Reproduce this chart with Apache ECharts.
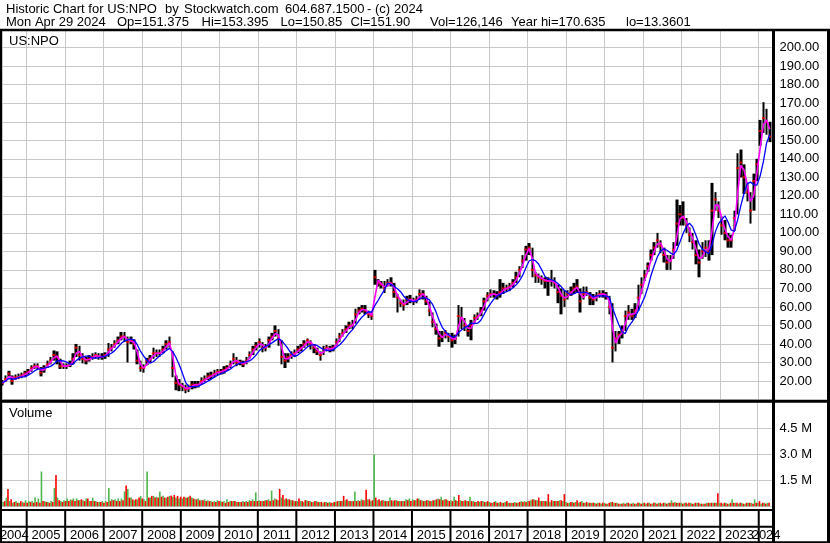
<!DOCTYPE html>
<html><head><meta charset="utf-8">
<script src="https://cdn.jsdelivr.net/npm/echarts@6/dist/echarts.min.js"></script>
<style>html,body{margin:0;padding:0;background:#fff}#c{width:830px;height:543px}</style>
</head><body><div id="c"></div>
<script>
// ---- data (monthly, May 2004 .. Apr 2024) ----
const startYear = 2004, startMonth = 5;
const years = ['2004','2005','2006','2007','2008','2009','2010','2011','2012','2013','2014','2015','2016','2017','2018','2019','2020','2021','2022','2023','2024'];
const close = [
 19,21,24,20,22,22,23,24,
 25,27,28,28,24.5,27,29,31,34,33,28,28,
 28,29,32,38,34,32,31,32,33,34,33,33,
 34,37,38,40,42,44,44,41,42,40,31,27,
 27,31,32,35,35,35,37,40,41,27,19,18,
 17,15.5,16,18,18,18,20,21,22.5,23,24,25,
 25,26,27,29,32,30,30,29,31,34,37,39,
 41,38,38,42,44,47,43,33,31,33,34,35,
 37,38,40,42,40,38,36,34,37,38,37,38,
 41,44,46,48,50,50,56,58,59,58,56,55,
 76,73,72,70,73,73,68,65,62,61,64,64,
 63,64,67,67,63,58,52,48,43,44,46,44,
 42,43,55,54,50,47,50,54,55,58,63,66,
 67,67,66,68,70,70,71,73,76,80,85,91,
 92,80,77,76,75,74,74,74,73,68,66,64,
 67,68,70,71,63,67,68,65,64,66,67,67,
 66,60,38,43,45,47,55,57,55,58,65,72,
 77,82,88,92,96,93,88,84,85,91,105,110,
 108,104,99,95,88,84,90,92,90,112,118,112,
 104,100,96,96,108,135,138,130,122,112,128,137,
 155,162,160,152
];
const high = [
 20.5,23,25.5,23,23.5,24,24.5,25.5,
 26.5,28.5,29.5,29.5,27.5,28.5,31,33,36.5,36,32,29.5,
 29.5,31,35,40,39,35,33,34,35,35.5,35,35,
 35.5,40.5,40,42,44,46.5,46.5,44,44,42.5,37,31,
 29,32.5,34,38,37,37,39,42,44,36,23,21,
 19,18,18,20,20,20,22,23,24.5,25,26,26.5,
 26.5,28,28.5,31,35,33,31.5,31,33,36,39,41,
 43,41,40,44,46,50,48,42,35,35,36,37,
 39,40,42,43,42,40,38,36,39,39.5,39,39.5,
 43,46,48,50,52,53,59,60,61,61,58,57.5,
 80,75,74,74,75,76,73,67,64,64,66,66.5,
 65,66,69.5,69,66,63,57,51,47,47,47.5,46,
 46,45,61,60,54,50,53,56,57,60,65,68,
 69.5,69,68.5,75,73,72,73,75,79,82,88,93,
 94.5,92,79,78,77,76,76,80,76,72,70,69,
 69,71,73,75,70,71,71,68,67,68,69,69,
 68,66,62,47,47,50,58,61,59,62,72,76,
 80,84,91,95,100,96,92,88,88,95,118,115,
 117,108,103,100,96,91,95,96,96,127,122,117,
 109,107,100,99,112,143,145,137,127,122,132,140,
 161,170.6,167,160
];
const low = [
 17.5,19.5,22,18,20.5,21,21.5,22.5,
 23.5,25,26.5,26,22.5,24.5,27,29,31,29,26.5,26.5,
 26.5,27.5,29,33,31,29.5,29,30.5,31.5,32,31.5,31.5,
 32,33,36,38,40,42,41,30,40,37,29,25,
 24.5,28.5,30,32,33,33,35,37,38,22,15,14.5,
 14.5,13.4,14,15.5,16,16.5,18,19.5,20.5,21,22,23,
 23.5,24,25.5,27,29,28,28.5,27.5,29,32,34,36.5,
 38,35.5,36,38,42,44,39,29,27,30,32,33,
 35,36,38,39,37,35,34,31,34,36,35.5,36,
 39,41,44,46,48,48,51,56,57,56,54,53,
 72,71,70,67.5,71,71,65,57,60,58,61,62,
 61,62,64,64,61,55,49,45,38.5,41,43,41,
 38,40,44,48,47,44,42,51,53,55,58,63,
 65,65,64,65,67,68,68.5,70.5,73,76,81,85,
 88,76,73,73,72,70,66,71,70,62,56,60,
 64,66,67,68,57,64,66,61,61,63,65,65,
 64,56,30,36,40,43,47,53,53,54,58,67,
 74,79,85,88,92,89,84,80,80,86,93,104,
 104,100,95,91,83,76,86,87,85,88,112,108,
 99,96,92,92,101,110,130,121,117,105,112,128,
 147,154,153,149
];
const maFast = [
 19,20,22.5,22,21,22,22.5,23.5,
 24.5,26,27.5,28,26,26,28,30,32.5,33.5,30.5,28,
 28,28.5,30.5,35,36,33,31.5,31.5,32.5,33.5,33.5,33,
 33.5,35.5,37.5,39,41,43,44,42.5,41.5,41,35.5,29,
 27,29,31.5,33.5,35,35,36,38.5,40.5,34,23,18.5,
 17.5,16,16,17,18,18,19,20.5,21.5,22.5,23.5,24.5,
 25,25.5,26.5,28,30.5,31,30,29.5,30,32.5,35.5,38,
 40,39.5,38,40,43,45.5,45,38,32,32,33.5,34.5,
 36,37.5,39,41,41,39,37,35,35.5,37.5,37.5,37.5,
 39.5,42.5,45,47,49,50,53,57,58.5,58.5,57,55.5,
 65.5,74.5,72.5,71,71.5,73,70.5,66.5,63.5,61.5,62.5,64,
 63.5,63.5,65.5,67,65,60.5,55,50,45.5,43.5,45,45,
 43,42.5,49,54.5,52,48.5,48.5,52,54.5,56.5,60.5,64.5,
 66.5,67,66.5,67,69,70,70.5,72,74.5,78,82.5,88,
 91.5,86,78.5,76.5,75.5,74.5,74,74,73.5,70.5,67,65,
 65.5,67.5,69,70.5,67,65,67.5,66.5,64.5,65,66.5,67,
 66.5,63,49,40.5,44,46,51,56,56,56.5,61.5,68.5,
 74.5,79.5,85,90,94,94.5,90.5,86,84.5,88,98,107.5,
 109,106,101.5,97,91.5,86,87,91,91,101,115,115,
 108,102,98,96,102,121.5,136.5,134,126,117,120,132.5,
 146,158.5,161,156
];
const maSlow = [
 19,20,21.3,21,21.2,21.8,22.2,22.2,
 23.2,24.2,25.4,26.4,26.5,26.9,27.3,27.9,29.1,30.8,31,30.8,
 30.2,29.2,29,31,32.2,33,33.4,33.4,32.4,32.4,32.6,33,
 33.4,34.2,35,36.4,38.2,40.2,41.6,42.2,42.6,42.2,39.6,36.2,
 33.4,31.2,29.6,30.4,32,33.6,34.8,36.4,37.6,36,32.8,29,
 24.4,19.3,17.1,16.9,16.9,17.1,18,19,19.9,20.9,22.1,23.1,
 23.9,24.6,25.4,26.4,27.8,28.8,29.6,30,30.4,30.8,32.2,34,
 36.4,37.8,38.6,39.6,40.6,41.8,42.8,41.8,39.6,37.4,34.8,33.2,
 34,35.4,36.8,38.4,39.4,39.6,39.2,38,37,36.6,36.4,36.8,
 38.2,39.6,41.2,43.4,45.8,47.6,50,52.4,54.6,56.2,57.4,57.2,
 60.8,63.6,66.4,69.2,72.8,72.2,71.2,69.8,68.2,65.8,64,63.2,
 62.8,63.2,64.4,65,64.8,63.8,61.4,57.6,52.8,49,46.6,45,
 43.8,43.8,46,47.6,48.8,49.8,51.2,51,51.2,52.8,56,59.2,
 61.8,64.2,65.8,66.8,67.6,68.2,69,70.4,72,74,77,81,
 84.8,85.6,85,83.2,80,76.4,75.2,74.6,74,72.6,71,69,
 67.6,66.6,67,68,67.8,67.8,67.8,66.8,65.4,66,66,65.8,
 66,65.2,59.6,54.8,50.4,46.6,45.6,49.4,51.8,54.4,58,61.4,
 65.4,70.8,76.8,82.2,87,90.2,91.4,90.6,89.2,88.2,90.6,95,
 99.8,103.6,105.2,103.2,98.8,94,91.2,89.8,88.8,93.6,100.4,104.8,
 107.2,109.2,106,101.6,100.8,107,114.6,121.4,126.6,127.4,126,125.8,
 130.8,138.8,148.4,153.2
];
const volUp = [
 0.25,0.5,0.3,0.2,0.3,0.2,0.25,0.35,
 0.3,0.3,0.5,0.45,2.0,0.3,0.25,0.3,1.05,0.5,0.3,0.35,
 0.45,0.4,0.45,0.45,0.35,0.35,0.45,0.3,0.5,0.3,0.25,0.3,
 0.3,1.05,0.4,0.4,0.45,0.45,0.85,1.0,0.5,0.35,0.4,0.6,
 0.4,2.0,0.5,0.6,0.55,0.85,0.6,0.5,0.6,0.55,0.5,0.45,
 0.45,0.5,0.55,0.5,0.4,0.45,0.35,0.4,0.35,0.3,0.3,0.35,
 0.3,0.3,0.4,0.3,0.3,0.25,0.25,0.3,0.3,0.35,0.4,0.8,
 0.35,0.3,0.35,0.4,0.9,0.45,0.35,0.5,0.4,0.4,0.35,0.3,
 0.3,0.3,0.25,0.35,0.3,0.25,0.3,0.25,0.2,0.25,0.25,0.2,
 0.25,0.3,0.3,0.35,0.3,0.3,0.85,0.35,0.4,0.35,0.4,0.3,
 3.0,0.35,0.3,0.35,0.3,0.5,0.3,0.35,0.3,0.3,0.4,0.45,
 0.4,0.35,0.45,0.35,0.3,0.35,0.3,0.35,0.45,0.55,0.4,0.35,
 0.35,0.55,0.3,0.35,0.3,0.3,0.55,0.3,0.25,0.25,0.3,0.25,
 0.25,0.2,0.3,0.2,0.2,0.25,0.2,0.2,0.25,0.2,0.3,0.3,
 0.3,0.35,0.4,0.35,0.3,0.3,0.3,0.25,0.3,0.3,0.35,0.3,
 0.25,0.2,0.25,0.25,0.2,0.3,0.2,0.2,0.2,0.2,0.2,0.15,
 0.2,0.15,0.25,0.2,0.2,0.15,0.2,0.2,0.15,0.2,0.15,0.2,
 0.2,0.15,0.2,0.15,0.2,0.2,0.15,0.2,0.2,0.35,0.25,0.2,
 0.2,0.2,0.15,0.2,0.15,0.2,0.15,0.15,0.2,0.2,0.2,0.2,
 0.2,0.15,0.2,0.15,0.4,0.2,0.15,0.2,0.15,0.2,0.2,0.4,
 0.2,0.15,0.2,0.2
];
const volDown = [
 0.3,1.0,0.4,0.25,0.2,0.3,0.2,0.2,
 0.25,0.2,0.25,0.2,0.3,0.25,0.2,0.25,1.8,0.35,0.25,0.3,
 0.3,0.35,0.3,0.35,0.4,0.3,0.45,0.3,0.3,0.25,0.25,0.2,
 0.25,0.3,0.35,0.3,0.3,0.35,1.2,0.5,0.4,0.4,0.5,0.45,
 0.3,0.5,0.6,0.5,0.5,0.55,0.5,0.55,0.6,0.65,0.6,0.55,
 0.55,0.5,0.6,0.45,0.4,0.35,0.35,0.3,0.3,0.25,0.25,0.3,
 0.25,0.2,0.25,0.3,0.3,0.25,0.25,0.25,0.25,0.3,0.3,0.3,
 0.3,0.3,0.35,0.3,0.35,0.4,1.0,0.65,0.45,0.4,0.35,0.3,
 0.45,0.3,0.35,0.3,0.25,0.3,0.25,0.25,0.25,0.2,0.2,0.25,
 0.3,0.3,0.6,0.4,0.3,0.3,0.3,0.3,0.35,0.95,0.4,0.35,
 0.5,0.4,0.35,0.3,0.3,0.35,0.35,0.3,0.3,0.3,0.35,0.3,
 0.35,0.45,0.35,0.3,0.35,0.3,0.35,0.4,0.4,0.35,0.4,0.3,
 0.3,0.35,0.65,0.3,0.35,0.3,0.3,0.25,0.3,0.3,0.25,0.3,
 0.2,0.25,0.2,0.25,0.2,0.3,0.2,0.2,0.2,0.25,0.25,0.25,
 0.3,0.4,0.35,0.5,0.3,0.3,0.7,0.35,0.3,0.3,0.35,0.7,
 0.2,0.25,0.2,0.35,0.25,0.2,0.25,0.2,0.2,0.15,0.2,0.2,
 0.15,0.2,0.25,0.2,0.15,0.15,0.15,0.2,0.15,0.15,0.2,0.15,
 0.2,0.2,0.15,0.2,0.15,0.2,0.2,0.15,0.2,0.2,0.2,0.2,
 0.15,0.2,0.2,0.15,0.2,0.2,0.15,0.15,0.2,0.2,0.2,0.75,
 0.2,0.2,0.15,0.2,0.2,0.2,0.2,0.15,0.2,0.2,0.15,0.2,
 0.3,0.2,0.15,0.2
];
const priceTickMin = 20, priceTickMax = 200;
const volTickLabels = [1.5, 3.0, 4.5];
const headerLine1 = [['Historic Chart for US:NPO',6],['by',165],['Stockwatch.com',184],['604.687.1500',285],['-',367],['(c)',375],['2024',394]];
const headerLine2 = [['Mon Apr 29 2024',6],['Op=151.375',117],['Hi=153.395',201.5],['Lo=150.85',280.5],['Cl=151.90',350.5],['Vol=126,146',430],['Year hi=170.635',511],['lo=13.3601',626]];

// ---- build ----
const FONT = '13px "Liberation Sans", Arial, sans-serif';
const months = close.map((_, i) => { const m = startMonth - 1 + i; return new Date(startYear + Math.floor(m / 12), m % 12, 15).getTime(); });
const xMin = new Date(2004, 4, 12).getTime();
const xMax = new Date(2024, 4, 20).getTime();
const YEAR_MS = 365 * 86400000;
const yearBoxes = years.map((y, i) => {
  const s = Math.max(new Date(+y, 0, 1).getTime(), xMin);
  const e = Math.min(new Date(+y + 1, 0, 1).getTime(), xMax);
  return [s, e, i];
});
const grids = [
  { left: 2, top: 29.2, width: 771.5, height: 370.3 },
  { left: 2, top: 402, width: 771.5, height: 104.3 },
  { left: 2, top: 510, width: 771.5, height: 32 }
];
const mkX = (gi, split) => ({
  type: 'time', gridIndex: gi, min: xMin, max: xMax,
  minInterval: YEAR_MS, maxInterval: YEAR_MS,
  axisLine: { show: false }, axisTick: { show: false }, axisLabel: { show: false },
  splitLine: { show: split, lineStyle: { color: '#c8c8c8', width: 1 } }
});
const graphic = [];
const line = (x1, y1, x2, y2, w) => graphic.push({ type: 'line', z: 100, silent: true, shape: { x1, y1, x2, y2 }, style: { stroke: '#000', lineWidth: w } });
line(0, 30, 830, 30, 2.5);
line(1, 29, 1, 543, 2);
line(773.5, 29, 773.5, 543, 3);
line(828.5, 29, 828.5, 543, 3);
line(0, 401.3, 830, 401.3, 3);
line(0, 510, 773.5, 510, 2);
line(0, 526.8, 773.5, 526.8, 2);
line(0, 542.2, 830, 542.2, 2);
const txt = (t, x, y) => graphic.push({ type: 'text', z: 101, silent: true, style: { text: t, x, y, font: FONT, fill: '#000', verticalAlign: 'middle', align: 'left' } });
headerLine1.forEach(([t, x]) => txt(t, x, 9.5));
headerLine2.forEach(([t, x]) => txt(t, x, 22.5));
txt('US:NPO', 9, 41.5);
txt('Volume', 9, 413.5);

const option = {
  animation: false,
  backgroundColor: '#fff',
  grid: grids,
  xAxis: [mkX(0, true), mkX(1, true), mkX(2, false)],
  yAxis: [
    { type: 'value', gridIndex: 0, position: 'right', min: 10, max: 210, interval: 10,
      axisLine: { show: false }, axisTick: { show: false },
      axisLabel: { margin: 6, fontFamily: 'Liberation Sans', fontSize: 13, color: '#000',
        formatter: v => (v >= priceTickMin && v <= priceTickMax) ? v.toFixed(2) : '' },
      splitLine: { show: true, lineStyle: { color: '#c8c8c8', width: 1 } } },
    { type: 'value', gridIndex: 1, position: 'right', min: 0, max: 6, interval: 1.5,
      axisLine: { show: false }, axisTick: { show: false },
      axisLabel: { margin: 6, fontFamily: 'Liberation Sans', fontSize: 13, color: '#000',
        formatter: v => volTickLabels.includes(v) ? v.toFixed(1) + ' M' : '' },
      splitLine: { show: true, lineStyle: { color: '#c8c8c8', width: 1 } } },
    { type: 'value', gridIndex: 2, min: 0, max: 1, show: false }
  ],
  graphic,
  series: [
    { type: 'candlestick', xAxisIndex: 0, yAxisIndex: 0, barWidth: 3, z: 2,
      encode: { x: 0, y: [1, 2, 3, 4] },
      itemStyle: { color: '#000', color0: '#000', borderColor: '#000', borderColor0: '#000', borderWidth: 0 },
      data: months.map((t, i) => [t, low[i], high[i], low[i], high[i]]) },
    { type: 'scatter', xAxisIndex: 0, yAxisIndex: 0, symbol: 'rect', symbolSize: [3, 2], z: 3,
      itemStyle: { color: '#ff0000' }, data: months.map((t, i) => [t, close[i]]) },
    { type: 'line', xAxisIndex: 0, yAxisIndex: 0, showSymbol: false, z: 4,
      lineStyle: { color: '#ff00ff', width: 1.6 }, data: months.map((t, i) => [t, maFast[i]]) },
    { type: 'line', xAxisIndex: 0, yAxisIndex: 0, showSymbol: false, z: 5,
      lineStyle: { color: '#0000ff', width: 1.3 }, data: months.map((t, i) => [t, maSlow[i]]) },
    { type: 'bar', xAxisIndex: 1, yAxisIndex: 1, barWidth: 1.6, barGap: '0%',
      itemStyle: { color: '#4cb84c' }, data: months.map((t, i) => [t, volUp[i]]) },
    { type: 'bar', xAxisIndex: 1, yAxisIndex: 1, barWidth: 1.6, barGap: '0%',
      itemStyle: { color: '#ff0000' }, data: months.map((t, i) => [t, volDown[i]]) },
    { type: 'custom', xAxisIndex: 2, yAxisIndex: 2, encode: { x: [0, 1] }, clip: false,
      data: yearBoxes,
      renderItem: (params, api) => {
        const s = api.coord([api.value(0), 0]);
        const e = api.coord([api.value(1), 0]);
        const top = api.coord([api.value(0), 1]);
        const mid = api.coord([api.value(0), 0.22]);
        const idx = api.value(2);
        const children = [{ type: 'text', style: { text: years[idx], x: (s[0] + e[0]) / 2, y: mid[1], align: 'center', verticalAlign: 'middle', font: FONT, fill: '#000' } }];
        if (idx > 0) children.push({ type: 'line', shape: { x1: s[0], y1: top[1], x2: s[0], y2: s[1] }, style: { stroke: '#000', lineWidth: 2 } });
        return { type: 'group', children };
      } }
  ]
};
echarts.init(document.getElementById('c')).setOption(option);
</script></body></html>
